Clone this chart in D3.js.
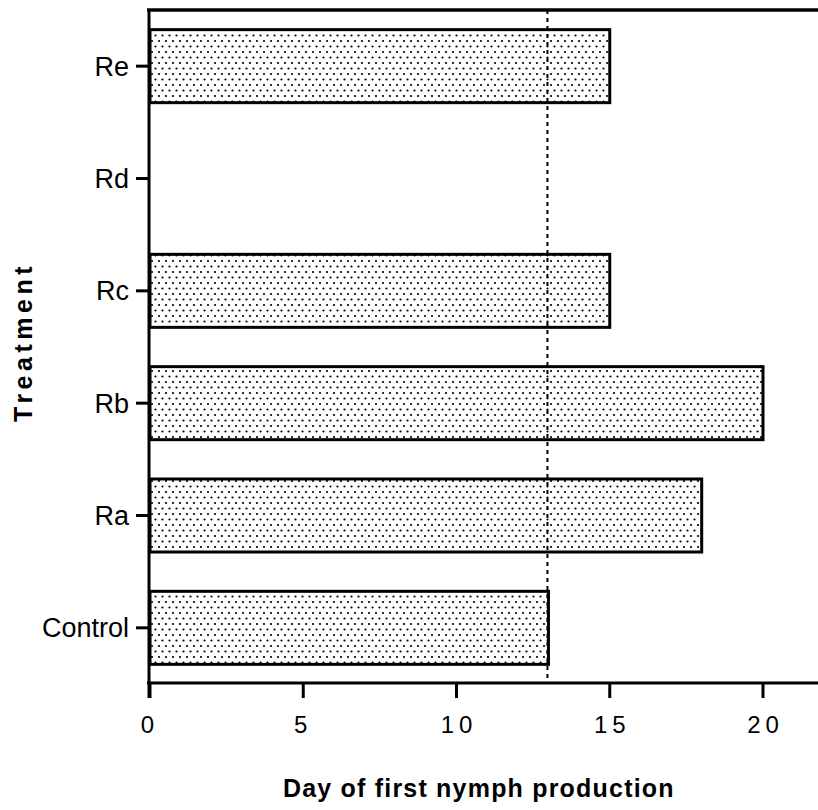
<!DOCTYPE html>
<html lang="en">
<head>
<meta charset="UTF-8">
<title>Day of first nymph production</title>
<script src="https://d3js.org/d3.v7.min.js"></script>
<style>
  html, body { margin: 0; padding: 0; background: #fff; }
  svg text { font-family: "Liberation Sans", Arial, sans-serif; fill: #000; }
</style>
</head>
<body>
<svg id="chart" width="818" height="810"></svg>
<script>
const treatments = ["Re", "Rd", "Rc", "Rb", "Ra", "Control"];
const days = [15, null, 15, 20, 18, 13];
const xTicks = [0, 5, 10, 15, 20];
const refDay = 13;

const svg = d3.select("#chart");

// dotted fill like the old stipple
const defs = svg.append("defs");
const pat = defs.append("pattern")
  .attr("id", "dots").attr("patternUnits", "userSpaceOnUse")
  .attr("width", 7).attr("height", 11);
pat.append("rect").attr("width", 7).attr("height", 11).attr("fill", "#fff");
pat.append("circle").attr("cx", 1.5).attr("cy", 2.5).attr("r", 1.1).attr("fill", "#000");
pat.append("circle").attr("cx", 5).attr("cy", 8).attr("r", 1.1).attr("fill", "#000");

const x = d3.scaleLinear().domain([0, 20]).range([150, 763]);
const y = d3.scaleBand().domain(treatments).range([10, 684]).paddingInner(0.35).paddingOuter(0.175);
const axisY = 683;
const topY = 10;

// bars
svg.append("g").selectAll("rect")
  .data(treatments.map((t, i) => ({t, v: days[i]})).filter(d => d.v != null))
  .join("rect")
    .attr("x", x(0))
    .attr("y", d => y(d.t))
    .attr("width", d => x(d.v) - x(0))
    .attr("height", y.bandwidth())
    .attr("fill", "url(#dots)")
    .attr("stroke", "#000")
    .attr("stroke-width", 3);

// reference line
svg.append("line")
  .attr("x1", x(refDay) - 1).attr("x2", x(refDay) - 1)
  .attr("y1", topY).attr("y2", axisY)
  .attr("stroke", "#000").attr("stroke-width", 2)
  .attr("stroke-dasharray", "4,4");

// frame top
svg.append("line").attr("x1", 147).attr("x2", 818).attr("y1", topY).attr("y2", topY)
  .attr("stroke", "#000").attr("stroke-width", 3.5);

// y axis
svg.append("line").attr("x1", 149).attr("x2", 149).attr("y1", topY - 1).attr("y2", axisY + 15)
  .attr("stroke", "#000").attr("stroke-width", 3);
const yt = svg.append("g").selectAll("g").data(treatments).join("g")
  .attr("transform", d => `translate(0,${y(d) + y.bandwidth() / 2})`);
yt.append("line").attr("x1", 136).attr("x2", 149).attr("stroke", "#000").attr("stroke-width", 3);
yt.append("text").attr("x", 129).attr("dy", "0.35em").attr("text-anchor", "end")
  .attr("font-size", 27).text(d => d);

// x axis
svg.append("line").attr("x1", 147).attr("x2", 818).attr("y1", axisY).attr("y2", axisY)
  .attr("stroke", "#000").attr("stroke-width", 3);
const xt = svg.append("g").selectAll("g").data(xTicks).join("g")
  .attr("transform", d => `translate(${x(d)},${axisY})`);
xt.append("line").attr("y1", 0).attr("y2", 15).attr("stroke", "#000").attr("stroke-width", 3);
xt.append("text").attr("y", 50).attr("text-anchor", "middle")
  .attr("font-size", 24).attr("letter-spacing", "5px")
  .text(d => String(d))
  .attr("dx", d => String(d).length > 1 ? 2.5 : 0);

// axis titles
svg.append("text").attr("x", 283).attr("y", 797)
  .attr("font-size", 25).attr("font-weight", "bold").attr("letter-spacing", "1.2px")
  .text("Day of first nymph production");
svg.append("text").attr("transform", "translate(32,422) rotate(-90)")
  .attr("font-size", 25).attr("font-weight", "bold")
  .attr("letter-spacing", "4.5px").text("Treatment");
</script>
</body>
</html>
